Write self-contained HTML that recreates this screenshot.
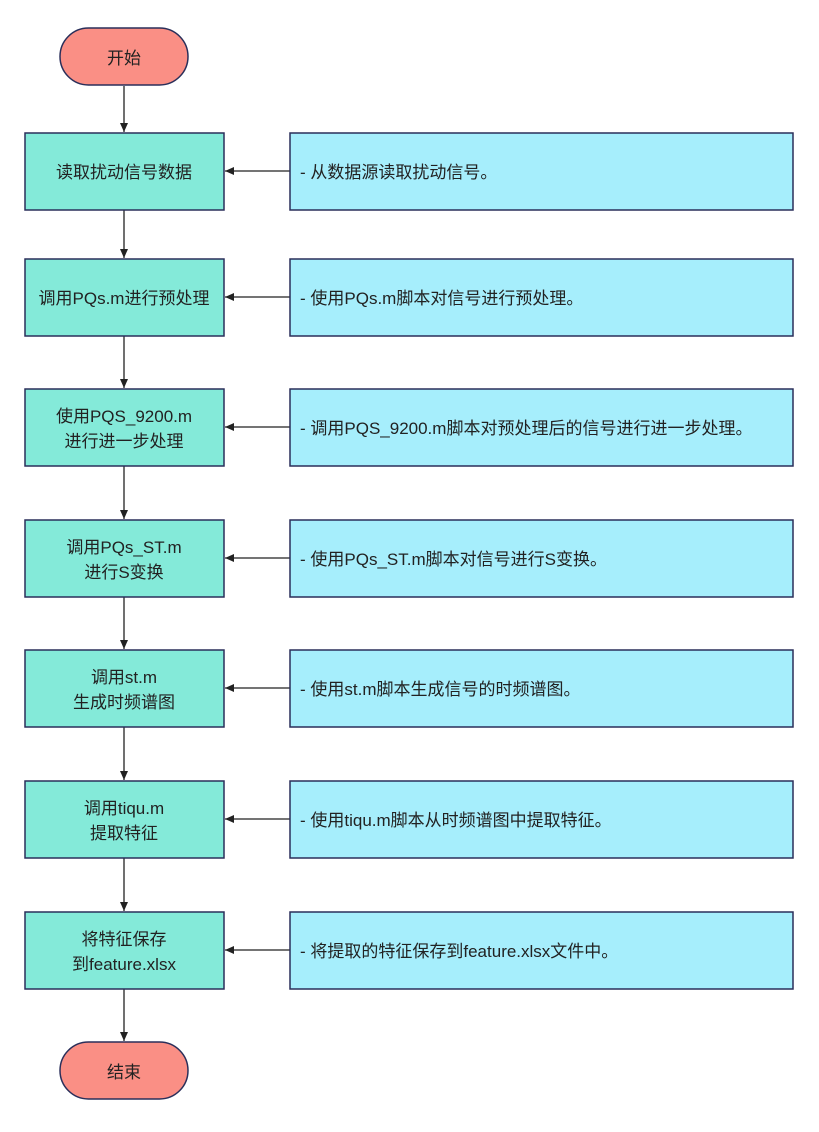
<!DOCTYPE html>
<html><head><meta charset="utf-8"><style>
html,body{margin:0;padding:0;background:#fff}
svg text{font-family:"Liberation Sans","Noto Sans CJK SC",sans-serif;font-size:17px;fill:#222}
</style></head><body>
<svg width="819" height="1127" viewBox="0 0 819 1127" xmlns="http://www.w3.org/2000/svg">
<defs><marker id="a" markerWidth="10" markerHeight="10" refX="9" refY="5" orient="auto" markerUnits="userSpaceOnUse"><path d="M0,1 L9,5 L0,9 Z" fill="#222"/></marker></defs>
<g stroke="#222" stroke-width="1.3" fill="none">
<line x1="124" y1="86" x2="124" y2="132" marker-end="url(#a)"/>
<line x1="124" y1="210" x2="124" y2="258" marker-end="url(#a)"/>
<line x1="124" y1="336" x2="124" y2="388" marker-end="url(#a)"/>
<line x1="124" y1="466" x2="124" y2="519" marker-end="url(#a)"/>
<line x1="124" y1="597" x2="124" y2="649" marker-end="url(#a)"/>
<line x1="124" y1="727" x2="124" y2="780" marker-end="url(#a)"/>
<line x1="124" y1="858" x2="124" y2="911" marker-end="url(#a)"/>
<line x1="124" y1="989" x2="124" y2="1041" marker-end="url(#a)"/>
<line x1="290" y1="171" x2="225" y2="171" marker-end="url(#a)"/>
<line x1="290" y1="297" x2="225" y2="297" marker-end="url(#a)"/>
<line x1="290" y1="427" x2="225" y2="427" marker-end="url(#a)"/>
<line x1="290" y1="558" x2="225" y2="558" marker-end="url(#a)"/>
<line x1="290" y1="688" x2="225" y2="688" marker-end="url(#a)"/>
<line x1="290" y1="819" x2="225" y2="819" marker-end="url(#a)"/>
<line x1="290" y1="950" x2="225" y2="950" marker-end="url(#a)"/>
</g>
<g stroke="#2a2f5a" stroke-width="1.5">
<rect x="60" y="28" width="128" height="57" rx="28.5" fill="#fa8f85"/>
<rect x="60" y="1042" width="128" height="57" rx="28.5" fill="#fa8f85"/>
<g fill="#84ead9">
<rect x="25" y="133" width="199" height="77"/>
<rect x="25" y="259" width="199" height="77"/>
<rect x="25" y="389" width="199" height="77"/>
<rect x="25" y="520" width="199" height="77"/>
<rect x="25" y="650" width="199" height="77"/>
<rect x="25" y="781" width="199" height="77"/>
<rect x="25" y="912" width="199" height="77"/>
</g>
<g fill="#a6eefc">
<rect x="290" y="133" width="503" height="77"/>
<rect x="290" y="259" width="503" height="77"/>
<rect x="290" y="389" width="503" height="77"/>
<rect x="290" y="520" width="503" height="77"/>
<rect x="290" y="650" width="503" height="77"/>
<rect x="290" y="781" width="503" height="77"/>
<rect x="290" y="912" width="503" height="77"/>
</g>
</g>
<g text-anchor="middle">
<text x="124" y="64">开始</text>
<text x="124" y="1078">结束</text>
<text x="124" y="178">读取扰动信号数据</text>
<text x="124" y="304">调用PQs.m进行预处理</text>
<text x="124" y="422">使用PQS_9200.m</text><text x="124" y="447">进行进一步处理</text>
<text x="124" y="553">调用PQs_ST.m</text><text x="124" y="578">进行S变换</text>
<text x="124" y="683">调用st.m</text><text x="124" y="708">生成时频谱图</text>
<text x="124" y="814">调用tiqu.m</text><text x="124" y="839">提取特征</text>
<text x="124" y="945">将特征保存</text><text x="124" y="970">到feature.xlsx</text>
</g>
<g>
<text x="300" y="178">- 从数据源读取扰动信号。</text>
<text x="300" y="304">- 使用PQs.m脚本对信号进行预处理。</text>
<text x="300" y="434">- 调用PQS_9200.m脚本对预处理后的信号进行进一步处理。</text>
<text x="300" y="565">- 使用PQs_ST.m脚本对信号进行S变换。</text>
<text x="300" y="695">- 使用st.m脚本生成信号的时频谱图。</text>
<text x="300" y="826">- 使用tiqu.m脚本从时频谱图中提取特征。</text>
<text x="300" y="957">- 将提取的特征保存到feature.xlsx文件中。</text>
</g>
</svg>
</body></html>
